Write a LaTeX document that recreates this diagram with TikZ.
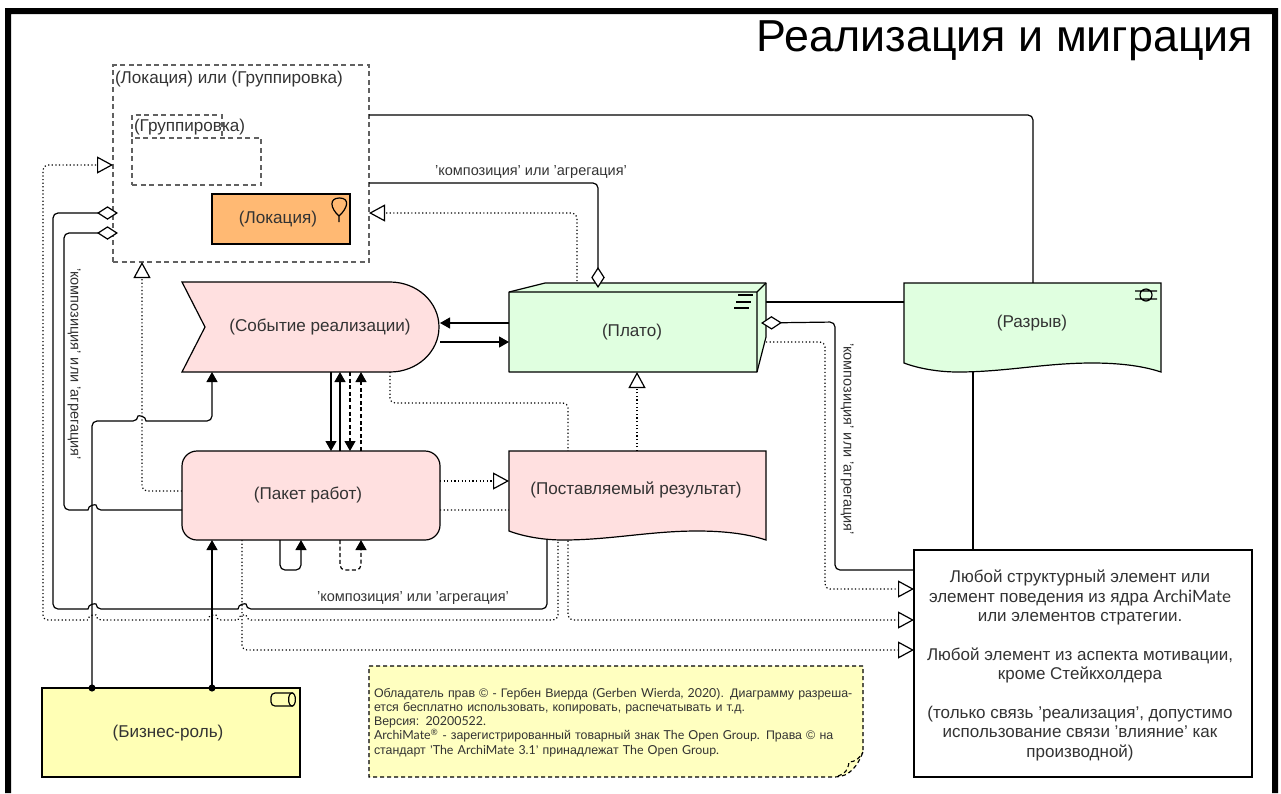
\documentclass[tikz,border=0pt]{standalone}
\usepackage{fontspec}
\setmainfont{Liberation Sans}
\newfontfamily\latn{Lato}
\usetikzlibrary{arrows.meta}
\definecolor{ink}{HTML}{333333}
\definecolor{pinkf}{HTML}{FFE0E0}
\definecolor{greenf}{HTML}{E0FFE0}
\definecolor{yellowf}{HTML}{FFFFB5}
\definecolor{orangef}{HTML}{FFB973}
\definecolor{notef}{HTML}{FFFFC0}
\newcommand{\jl}[2]{-- ({#1+4},#2) [sharp corners] .. controls ({#1+4},{#2-5.5}) and ({#1-4},{#2-5.5}) .. ({#1-4},#2) -- ({#1-5},#2) [rounded corners=5pt]}
\newcommand{\jr}[2]{-- ({#1-4},#2) [sharp corners] .. controls ({#1-4},{#2-5.5}) and ({#1+4},{#2-5.5}) .. ({#1+4},#2) -- ({#1+5},#2) [rounded corners=5pt]}
\tikzset{
  x=1pt,y=-1pt,
  every node/.style={text=ink,inner sep=0pt,outer sep=0pt},
  base/.style={line width=1.2pt,draw=black},
  lbl/.style={font=\fontsize{17.1}{20}\selectfont,align=center},
  box/.style={base,lbl,minimum width=#1},
  hidden/.style={lbl,minimum width=#1},
  small/.style={font=\fontsize{14.5}{16}\selectfont},
  conn/.style={line width=1.2pt,rounded corners=5pt},
  dotline/.style={conn,dash pattern=on 1.2pt off 2.4pt},
  dashline/.style={conn,dash pattern=on 4pt off 2.6pt},
  dashbox/.style={line width=1.15pt,draw=black!62,dash pattern=on 5pt off 3.5pt},
  tipreal/.style={-{Triangle[length=16pt,width=17pt,fill=white,line join=miter]}},
  tipfill/.style={-{Triangle[length=10pt,width=11pt,fill=black]}},
  tipdiam/.style={-{Diamond[length=21pt,width=13.5pt,fill=white]}},
  tipdot/.style={{Circle[length=7pt]}-{Triangle[length=10pt,width=11pt,fill=black]},shorten <=-3.5pt},
}
\begin{document}
\begin{tikzpicture}
\useasboundingbox (0,0) rectangle (1281,793);
% frame
\fill[black] (5,793) -- (5,8) -- (1278,8) -- (1278,793) -- (1272,793) -- (1272,14) -- (11,14) -- (11,793) -- cycle;
\node[anchor=base east,text=black,font=\fontsize{44.8}{48}\selectfont] (title) at (1253,51.5) {Реализация и миграция};

% group boxes
\node[dashbox,minimum width=256pt,minimum height=197pt,anchor=north west] (group) at (113,65) {};
\node[anchor=west,lbl] (grouptxt) at (115,79) {(Локация) или (Группировка)};
\draw[dashbox] (132,137) -- (132,115) -- (222,115) -- (222,137);
\node[dashbox,minimum width=129pt,minimum height=47pt,anchor=north west] (inner) at (132,138) {};
\node[anchor=west,lbl] (innertxt) at (134,127) {(Группировка)};
\node[box=138pt,fill=orangef,minimum height=50pt,anchor=north west] (loc) at (212,194) {(Локация)\hspace*{6pt}};
\draw[line width=1.2pt] (339,222) -- (339,216) .. controls (330,208) and (329,198) .. (339.5,198) .. controls (350,198) and (348,208) .. (339,216);

% anchor nodes for shapes (outlines are drawn below)
\node[hidden=258pt,minimum height=90pt,anchor=north west] (ev) at (182,282) {};
\node[hidden=257pt,minimum height=89pt,anchor=north west] (del) at (509,451) {};
\node[hidden=248pt,minimum height=80pt,anchor=north west] (plato) at (509,292) {};
\node[hidden=257pt,minimum height=89pt,anchor=north west] (gap) at (904,283) {};
\node[hidden=258pt,minimum height=89pt,anchor=north west] (wp) at (182,451) {};
\node[box=338pt,fill=white,minimum height=227pt,anchor=north west] (any) at (914,550) {};
\node[align=center,font=\fontsize{17}{19.4}\selectfont] (anytxt) at (1080,665.5)
 {Любой структурный элемент или\\ элемент поведения из ядра {\latn ArchiMate}\\ или элементов стратегии.\\ \mbox{}\\ Любой элемент из аспекта мотивации,\\ кроме Стейкхолдера\\ \mbox{}\\ (только связь ’реализация’, допустимо\\ использование связи ’влияние’ как\\ производной)};
\node[box=258pt,fill=yellowf,minimum height=89pt,anchor=north west] (role) at (42,688) {};

% dotted connectors that pass behind the shapes
\draw[dotline,tipreal] (ev.south -| 390,0) -- (390,403) -- (568,403) -- (568,620) -- (any.west |- 0,620);
\draw[dotline,tipreal] (wp.east |- 0,510) -- (558,510) -- (558,620) \jl{242}{620} \jl{212}{620} \jl{92}{620} -- (43,620) -- (43,165) -- (group.west |- 0,165);
\draw[dotline,tipreal] (wp.south -| 242,0) -- (242,650) -- (any.west |- 0,650);
\draw[dotline,tipreal] (wp.west |- 0,491) -- (142,491) -- (group.south -| 142,0);
\draw[dotline,tipreal] (plato.north -| 577,0) -- (577,213) -- (group.east |- 0,213);
\draw[dotline,tipreal] (del.north -| 637,0) -- (plato.south -| 637,0);
\draw[dotline,tipreal] (wp.east |- 0,481) -- (del.west |- 0,481);
\draw[dotline,tipreal] (766,342) -- (825,342) -- (825,589) -- (any.west |- 0,589);

% solid connectors behind shapes
\draw[conn] (group.east |- 0,115) -- (1033,115) -- (gap.north -| 1033,0);
\draw[conn] (gap.south -| 973,0) -- (any.north -| 973,0);
\draw[conn] (plato.east |- 0,302) ++(9,0) -- (gap.west |- 0,302);

% Event
\draw[base,fill=pinkf] (182,282) -- (390,282) .. controls (417,282) and (439,302) .. (439,327) .. controls (439,352) and (417,372) .. (390,372) -- (182,372) -- (205,327) -- cycle;
\node[lbl] (evtxt) at (320,327) {(Событие реализации)};
% Work package
\draw[base,fill=pinkf,rounded corners=15pt] (182,451) rectangle (440,540);
\node[lbl] (wptxt) at (308,495) {(Пакет работ)};
% Deliverable
\draw[base,fill=pinkf] (509,451) -- (766,451) -- (766,540) .. controls (745,533) and (720,531) .. (697,531) .. controls (650,531) and (610,540) .. (563,540) .. controls (545,540) and (525,537) .. (509,531) -- cycle;
\node[lbl] (deltxt) at (636,490) {(Поставляемый результат)};
% Plateau
\draw[base,fill=greenf,line join=round] (509,292) -- (545,283) -- (766,283) -- (766,337) -- (757,372) -- (509,372) -- cycle;
\draw[base,line join=round] (509,292) -- (757,292) -- (766,283) (757,292) -- (757,372);
\node[lbl] (platotxt) at (632,332) {(Плато)};
\draw[line width=1.6pt] (738,295) -- (753,295) (736,302) -- (751,302) (734,308) -- (749,308);
% Gap
\draw[base,fill=greenf] (904,283) -- (1161,283) -- (1161,372) .. controls (1140,365) and (1115,363) .. (1092,363) .. controls (1045,363) and (1005,372) .. (958,372) .. controls (940,372) and (920,369) .. (904,363) -- cycle;
\node[lbl] (gaptxt) at (1032,323) {(Разрыв)};
\draw[line width=1.2pt] (1146,295) circle[radius=6pt] (1135,291) -- (1157,291) (1135,299) -- (1157,299);
% Role text/icon
\node[lbl] (roletxt) at (168,733) {(Бизнес-роль)};
\draw[line width=1.2pt,rounded corners=4pt] (293,693) -- (271,693) -- (271,706) -- (293,706);
\draw[line width=1.2pt] (292,693) .. controls (296.5,693) and (296.5,706) .. (292,706) .. controls (287.5,706) and (287.5,693) .. (292,693);

% Note
\draw[line width=1.15pt,dash pattern=on 4pt off 3pt,draw=black,fill=notef] (369,666) -- (863,666) -- (863,752) .. controls (858,765) and (850,777) .. (835,777) -- (369,777) -- cycle;
\draw[line width=1.15pt,dash pattern=on 4pt off 3pt,draw=black] (838,776) .. controls (845,774) and (848,770) .. (849,762) .. controls (855,762) and (860,758) .. (863,752);
\node[anchor=north west,text width=488pt,font=\fontsize{12.4}{14.1}\selectfont,align=left] (note) at (374,688.5)
 {Обладатель прав © - Гербен Виерда ({\latn Gerben Wierda, 2020}). Диаграмму разреша-\\ ется бесплатно использовать, копировать, распечатывать и т.д.\\ Версия: {\latn 20200522.}\\ {\latn ArchiMate\textsuperscript{®}} - зарегистрированный товарный знак {\latn The Open Group.} Права © на\\ стандарт ’{\latn The ArchiMate 3.1}’ принадлежат {\latn The Open Group.}};

% solid connectors
\draw[conn,tipfill] (plato.west |- 0,323) -- (ev.east |- 0,323);
\draw[conn,tipfill] (ev.east |- 0,342) -- (plato.west |- 0,342);
\draw[conn,tipfill] (ev.south -| 331,0) -- (wp.north -| 331,0);
\draw[conn,tipfill] (wp.north -| 340,0) -- (ev.south -| 340,0);
\draw[dashline,tipfill] (ev.south -| 350,0) -- (wp.north -| 350,0);
\draw[dashline,tipfill] (wp.north -| 361,0) -- (ev.south -| 361,0);
\draw[conn,tipfill] (wp.south -| 280,0) -- (280,570) -- (301,570) -- (wp.south -| 301,0);
\draw[dashline,tipfill] (wp.south -| 340,0) -- (340,570) -- (361,570) -- (wp.south -| 361,0);
\draw[conn,tipdot] (role.north -| 212,0) -- (wp.south -| 212,0);
\draw[conn,tipdot] (role.north -| 92,0) -- (92,421) \jr{142}{421} -- (212,421) -- (ev.south -| 212,0);
\draw[conn,tipdiam] (wp.west |- 0,510) \jl{92}{510} -- (64,510) -- (64,233) -- (118,233);
\draw[conn,tipdiam] (547,539) -- (547,609) \jl{242}{609} \jl{92}{609} -- (53,609) -- (53,213) -- (118,213);
\draw[conn,tipdiam] (group.east |- 0,183) -- (598,183) -- (598,288);
\draw[conn,tipdiam] (any.west |- 0,570) -- (835,570) -- (835,322) -- (761,323);

% labels
\node[small] (l1) at (531,172) {’композиция’ или ’агрегация’};
\node[small] (l2) at (413,598) {’композиция’ или ’агрегация’};
\node[small,rotate=-90] (l3) at (847,439) {’композиция’ или ’агрегация’};
\node[small,rotate=-90] (l4) at (74,364) {’композиция’ или ’агрегация’};
\end{tikzpicture}
\end{document}
